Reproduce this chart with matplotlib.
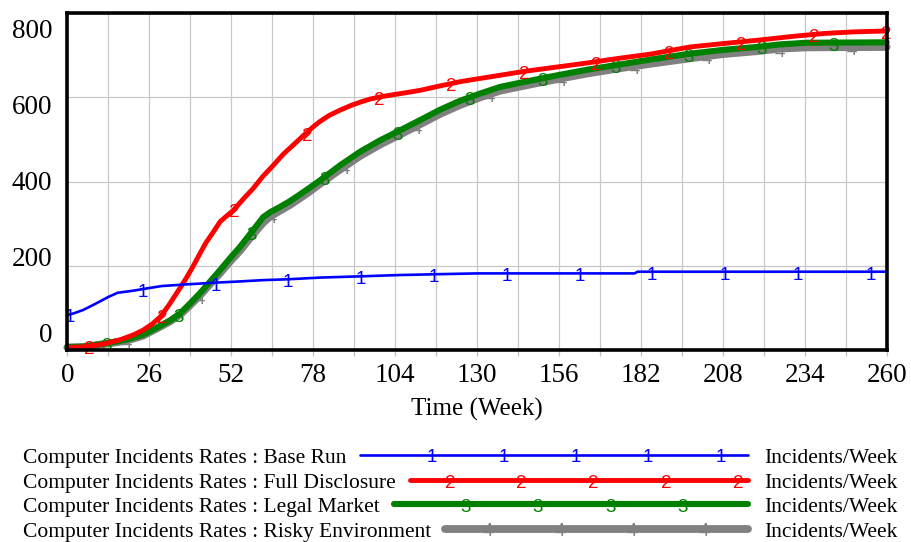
import numpy as np
import matplotlib
matplotlib.use("Agg")
import matplotlib.pyplot as plt
from matplotlib.transforms import ScaledTranslation

# ---------------- data ----------------
t_base = [0, 2, 5, 9, 13, 16, 21, 25, 30, 38, 47, 55, 62, 70, 80, 93, 105, 117, 130, 180, 181, 260]
base = [83, 87, 95, 110, 126, 136, 141, 146, 152, 156, 160, 163, 166, 168, 172, 175, 178, 180, 182, 182, 186, 186]

t_full = [0, 4, 8, 12, 17, 21, 24, 27, 29.5, 32, 34, 36, 38, 40, 42, 44, 46.3, 48.5, 50.5, 52.7, 56, 59, 62,
          65.4, 68.5, 71.7, 75, 78, 80, 83, 86.6, 90, 93, 96, 99, 103, 108, 112, 118, 125, 135, 145, 155, 165,
          175, 185, 197.6, 208, 219, 230, 240, 250, 260]
full = [6, 7, 10, 15, 25, 36, 47, 62, 79, 104, 127, 150, 174, 200, 228, 255, 280, 305, 318, 332, 360, 384, 412,
        439, 465, 487, 510, 530, 542, 557, 570, 581, 589, 596, 601, 606, 612, 617, 627, 638, 650, 662, 672, 682,
        693, 703, 720, 728, 736, 745, 752, 756, 758]

t_legal = [0, 5, 12.5, 17, 20, 24, 29.4, 32.6, 35.8, 38.9, 42.1, 45, 48.5, 51.5, 54.8, 59, 62.2, 64.5, 67.5,
           70.5, 73.9, 77, 80.2, 86.6, 92.9, 99.2, 105.6, 111.9, 118.3, 124.6, 130.9, 137.3, 145, 155, 165, 175,
           185, 197.6, 208, 218.8, 226, 234.6, 260]
legal = [7, 8, 16, 22, 27, 36, 57, 70, 87, 110, 135, 160, 190, 217, 245, 285, 316, 328, 340, 353, 370, 386, 403,
         439, 471, 498, 522, 546, 571, 592, 609, 625, 637, 652, 666, 678, 690, 704, 713, 720, 726, 730, 731]

t_risky = t_legal
risky = [6, 7, 15, 20, 25, 34, 55, 68, 84, 106, 130, 154, 183, 209, 236, 275, 303, 318, 331, 344, 361, 377, 395,
         429, 461, 488, 512, 536, 561, 582, 600, 616, 628, 643, 657, 669, 680, 693, 703, 710, 716, 719, 720]

x_ticks = list(range(0, 261, 26))
y_ticks = [0, 200, 400, 600, 800]

names = ["Computer Incidents Rates : Base Run",
         "Computer Incidents Rates : Full Disclosure",
         "Computer Incidents Rates : Legal Market",
         "Computer Incidents Rates : Risky Environment"]
unit_label = "Incidents/Week"
x_label = "Time (Week)"

# marker times (Vensim numbered markers)
mk_base = [0.8 + 23.1 * k for k in range(12)]
mk_full = [7 + 23 * k for k in range(12)]
mk_legal = [12.3 + 23.1 * k for k in range(11)]
mk_risky = [19 + 23 * k for k in range(11)]

# ---------------- style ----------------
SERIF = "Liberation Serif"
MKFONT = "Liberation Sans"
colors = ["#0000ff", "#ff0000", "#008000", "#808080"]
widths = [1.9, 3.5, 4.4, 5.6]
labels_digit = ["1", "2", "3", "4"]
MK_SIZE = 13.5

W, H = 912, 542
fig = plt.figure(figsize=(W / 100, H / 100), dpi=100)
ax = fig.add_axes([67.3 / W, (H - 350) / H, (886.6 - 67.3) / W, (350 - 13.3) / H])

ax.set_xlim(0, 260)
ax.set_ylim(0, 800)

series = [(t_base, base, mk_base), (t_full, full, mk_full), (t_legal, legal, mk_legal), (t_risky, risky, mk_risky)]
zorders = [6, 5, 4, 3]
for (tt, vv, mk), c, lw, d, z in zip(series, colors, widths, labels_digit, zorders):
    ax.plot(tt, vv, color=c, lw=lw, zorder=z, solid_capstyle="round", solid_joinstyle="round", clip_on=False)
    mv = np.interp(mk, tt, vv)
    for mt, m in zip(mk, mv):
        ax.annotate(d, (mt, m), xytext=(0, -2.5), textcoords="offset points", ha="center", va="center",
                    color=c, fontsize=MK_SIZE, family=MKFONT, zorder=z + 0.5, annotation_clip=False)

# grid / ticks
ax.set_xticks(x_ticks)
ax.set_xticks([13 + 26 * k for k in range(10)], minor=True)
ax.set_yticks(y_ticks)
ax.grid(True, which="both", axis="x", color="#c8c8c8", lw=0.9, zorder=0)
ax.grid(True, which="major", axis="y", color="#c8c8c8", lw=0.9, zorder=0)
ax.set_axisbelow(True)
ax.tick_params(axis="x", which="both", direction="out", length=4, width=0.9, color="#c0c0c0",
               labelsize=19.5, pad=5.5)
ax.tick_params(axis="y", which="both", length=0, labelsize=19.5, pad=11)
ax.set_xticklabels([str(v) for v in x_ticks], family=SERIF)
ax.set_yticklabels([str(v) for v in y_ticks], family=SERIF)
for s in ax.spines.values():
    s.set_linewidth(2.6)
    s.set_color("black")
    s.set_zorder(10)

# Vensim-style y labels pulled inside the range
for lab, v in zip(ax.get_yticklabels(), y_ticks):
    off_px = -17 + 0.04 * v  # positive = downward
    lab.set_transform(lab.get_transform() + ScaledTranslation(0, -off_px / 100, fig.dpi_scale_trans))

ax.set_xlabel(x_label, family=SERIF, fontsize=18, labelpad=7)

# ---------------- legend (bottom block) ----------------
lax = fig.add_axes([0, 0, 1, 1], zorder=-1)
lax.set_xlim(0, W)
lax.set_ylim(H, 0)
lax.axis("off")
baselines = [462.7, 487.7, 511.7, 536.7]
line_rise = 7.7
line_end = 748
leg_marks = [[432, 504, 576, 648, 721], [450, 521, 593, 666, 738], [466, 538, 611, 683], [488, 560, 632, 704]]
fig.canvas.draw()
r = fig.canvas.get_renderer()
for name, yb, c, lw, d, mxs in zip(names, baselines, colors, widths, labels_digit, leg_marks):
    y = yb - line_rise
    t = lax.text(23, yb, name, family=SERIF, fontsize=15.5, ha="left", va="baseline")
    bb = t.get_window_extent(renderer=r)
    x0 = bb.x1 + 14
    lax.plot([x0, line_end], [y, y], color=c, lw=lw, solid_capstyle="round")
    for mx in mxs:
        lax.text(mx, y + 3, d, color=c, fontsize=MK_SIZE, family=MKFONT, ha="center", va="center")
    lax.text(764, yb, unit_label, family=SERIF, fontsize=15.5, ha="left", va="baseline")

fig.savefig("out.png", dpi=100)
